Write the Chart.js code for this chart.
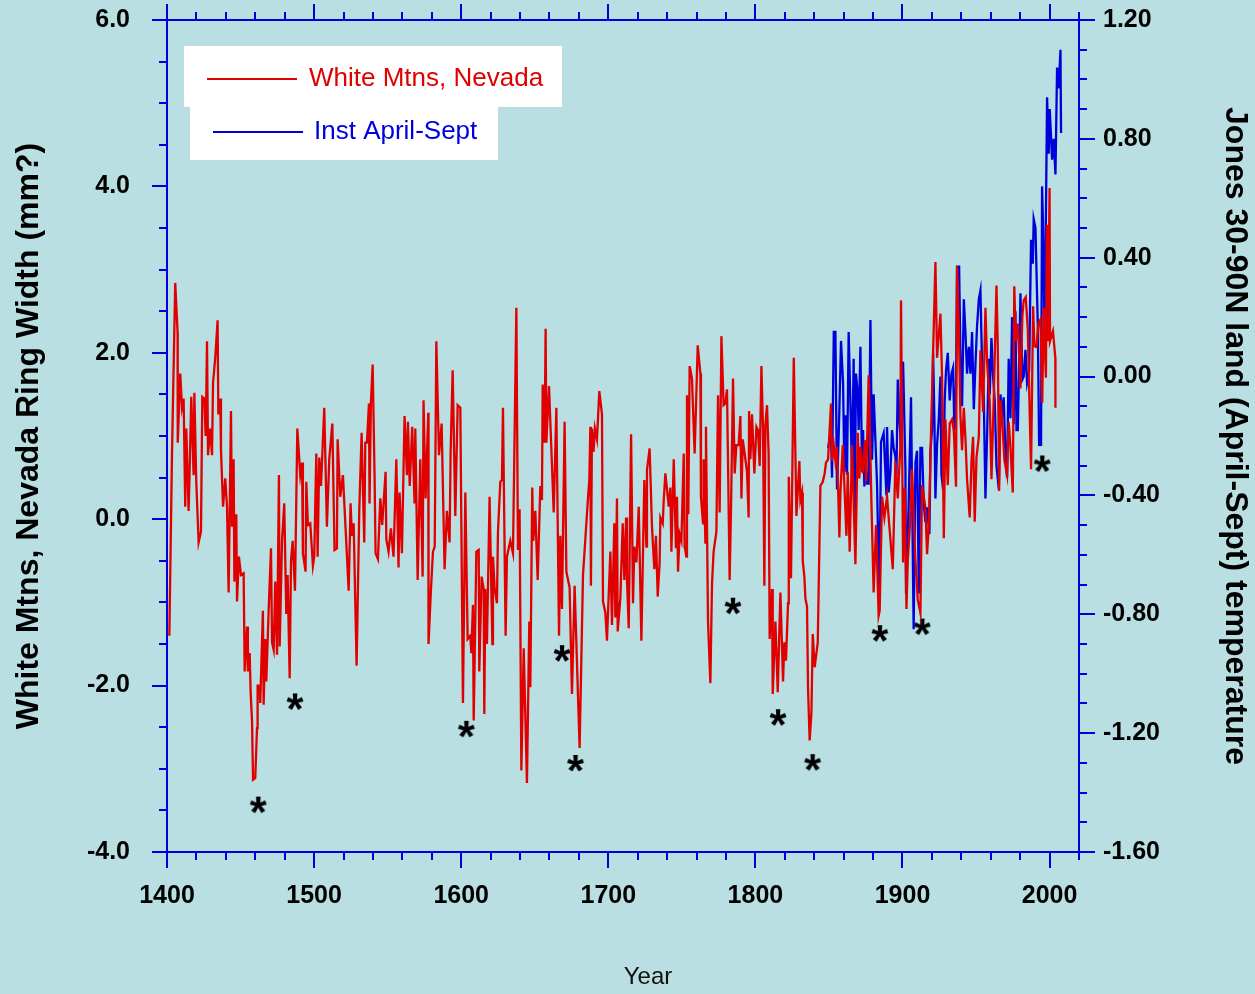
<!DOCTYPE html>
<html>
<head>
<meta charset="utf-8">
<script src="https://cdn.jsdelivr.net/npm/chart.js@4.4.1/dist/chart.umd.min.js"></script>
<style>
  html, body { margin: 0; padding: 0; background: #b9dfe2; }
  canvas { display: block; }
</style>
</head>
<body>
<canvas id="ringChart" width="1255" height="994"></canvas>
<script>
// White Mountains ring width (left axis, mm?)
const redYears = [
  1401.6, 1403.4, 1405.6, 1407.2, 1407.3, 1409.0, 1410.2, 1411.3, 1412.4, 1413.1, 1414.7, 1415.4, 1416.5, 1418.1, 1418.6, 1419.9,
  1421.5, 1423.1, 1424.0, 1425.4, 1426.3, 1427.2, 1427.9, 1429.4, 1430.6, 1431.3, 1432.8, 1434.4, 1434.9, 1436.2, 1436.7, 1438.1,
  1439.6, 1440.8, 1441.9, 1443.5, 1444.2, 1445.3, 1445.8, 1447.1, 1447.6, 1448.9, 1450.3, 1452.1, 1452.8, 1454.4, 1455.0, 1456.2,
  1456.9, 1457.8, 1458.5, 1460.0, 1461.2, 1461.6, 1463.0, 1463.4, 1465.2, 1465.7, 1466.8, 1467.5, 1469.1, 1470.7, 1471.4, 1472.5,
  1473.6, 1474.8, 1476.1, 1476.6, 1478.2, 1479.7, 1481.1, 1482.0, 1483.4, 1484.3, 1485.4, 1487.0, 1488.6, 1490.6, 1491.8, 1492.4,
  1494.2, 1494.7, 1495.8, 1497.4, 1499.2, 1500.1, 1501.5, 1502.4, 1503.5, 1504.7, 1506.9, 1508.7, 1510.3, 1512.4, 1513.9, 1515.5,
  1516.0, 1517.8, 1519.6, 1521.4, 1523.5, 1524.8, 1525.7, 1526.9, 1528.9, 1530.7, 1532.3, 1534.1, 1534.8, 1535.9, 1537.3, 1537.7,
  1538.6, 1539.8, 1541.1, 1541.8, 1543.4, 1545.0, 1546.3, 1548.6, 1549.1, 1550.6, 1552.2, 1554.0, 1555.9, 1557.4, 1558.1, 1559.7,
  1561.5, 1563.1, 1563.8, 1565.0, 1566.7, 1568.3, 1568.8, 1570.4, 1572.2, 1573.8, 1574.4, 1575.8, 1577.6, 1577.8, 1579.4, 1580.8,
  1582.0, 1583.1, 1584.9, 1586.7, 1588.7, 1590.3, 1592.1, 1592.8, 1594.2, 1596.0, 1597.6, 1599.4, 1601.2, 1602.8, 1604.4, 1606.2,
  1606.9, 1608.0, 1608.5, 1610.3, 1611.9, 1612.3, 1613.9, 1615.3, 1615.7, 1616.4, 1617.5, 1619.3, 1621.2, 1621.6, 1622.7, 1624.3,
  1625.0, 1626.6, 1627.7, 1628.4, 1630.2, 1631.1, 1633.4, 1635.2, 1637.5, 1638.6, 1639.7, 1640.9, 1642.5, 1644.7, 1646.3, 1647.0,
  1648.3, 1649.0, 1650.4, 1652.0, 1653.8, 1654.9, 1655.4, 1656.7, 1657.4, 1657.9, 1659.7, 1662.9, 1664.7, 1666.5, 1667.4, 1668.5,
  1670.3, 1671.5, 1673.7, 1675.3, 1677.1, 1680.5, 1682.8, 1686.2, 1687.1, 1687.8, 1688.2, 1688.9, 1690.0, 1690.9, 1692.3, 1693.9,
  1695.7, 1696.4, 1698.0, 1699.1, 1701.4, 1702.5, 1704.1, 1704.8, 1705.9, 1706.4, 1708.2, 1709.8, 1710.9, 1712.1, 1712.7, 1713.9,
  1715.5, 1716.8, 1717.7, 1719.1, 1720.7, 1722.5, 1724.5, 1725.9, 1726.3, 1728.1, 1729.7, 1731.3, 1732.4, 1733.6, 1734.9, 1735.4,
  1737.0, 1737.7, 1738.8, 1741.1, 1742.2, 1742.9, 1744.5, 1746.0, 1746.7, 1747.4, 1748.5, 1749.7, 1751.3, 1751.9, 1753.1, 1753.5,
  1754.4, 1755.3, 1756.9, 1758.7, 1760.8, 1762.6, 1763.0, 1764.4, 1764.8, 1766.0, 1766.4, 1767.8, 1769.4, 1770.5, 1771.6, 1773.5,
  1774.6, 1775.7, 1776.9, 1778.4, 1779.6, 1780.7, 1782.5, 1783.4, 1784.8, 1785.9, 1787.1, 1788.6, 1789.8, 1790.5, 1791.4, 1792.7,
  1794.3, 1795.4, 1795.7, 1796.6, 1797.7, 1799.3, 1800.7, 1801.8, 1802.9, 1804.1, 1805.2, 1806.1, 1806.8, 1807.9, 1809.0, 1809.7,
  1811.3, 1811.8, 1813.6, 1815.2, 1817.0, 1818.8, 1819.7, 1820.8, 1822.2, 1822.7, 1824.2, 1826.1, 1827.9, 1829.9, 1830.6, 1831.7,
  1832.2, 1833.3, 1834.0, 1835.1, 1835.8, 1836.9, 1838.1, 1839.0, 1840.3, 1842.4, 1844.2, 1845.8, 1847.1, 1848.0, 1849.4, 1851.4,
  1852.1, 1853.3, 1854.4, 1855.5, 1857.1, 1857.8, 1859.4, 1861.9, 1862.8, 1864.1, 1865.7, 1868.0, 1869.6, 1870.7, 1871.4, 1873.0,
  1874.5, 1875.3, 1877.0, 1878.9, 1880.4, 1882.0, 1883.8, 1884.5, 1886.1, 1887.7, 1889.5, 1891.1, 1893.4, 1895.2, 1896.8, 1898.6,
  1899.0, 1900.4, 1901.5, 1902.7, 1903.6, 1904.9, 1906.5, 1907.7, 1908.8, 1910.4, 1912.2, 1913.3, 1915.6, 1916.7, 1917.9, 1919.4,
  1922.4, 1923.5, 1925.8, 1926.9, 1928.1, 1929.2, 1930.8, 1932.1, 1933.7, 1934.9, 1936.4, 1937.1, 1938.3, 1939.4, 1940.5, 1941.7,
  1942.8, 1943.9, 1945.7, 1946.9, 1948.0, 1949.1, 1950.3, 1951.9, 1953.0, 1954.8, 1956.4, 1957.5, 1959.3, 1960.5, 1962.1, 1963.9,
  1964.8, 1965.7, 1966.6, 1967.7, 1969.3, 1971.1, 1972.2, 1973.4, 1975.0, 1976.0, 1977.0, 1978.4, 1980.2, 1981.5, 1982.4, 1983.8,
  1985.2, 1986.3, 1987.4, 1988.8, 1989.7, 1991.1, 1992.4, 1993.8, 1995.0, 1996.0, 1997.5, 1998.2, 1998.9, 2000.0, 2000.3, 2002.3,
  2003.9, 2004.0
];
const redValues = [
  -1.40, 0.79, 2.84, 2.24, 0.92, 1.75, 1.34, 1.45, 0.15, 1.09, 0.10, 0.59, 1.47, 0.53, 1.52, 0.45,
  -0.28, -0.15, 1.47, 1.45, 1.00, 2.14, 0.77, 1.09, 0.77, 1.64, 1.94, 2.39, 1.26, 1.45, 0.83, 0.15,
  0.49, 0.15, -0.88, 1.30, -0.09, 0.72, -0.75, 0.06, -0.99, -0.45, -0.67, -0.65, -1.83, -1.29, -1.83, -1.61,
  -2.10, -2.42, -3.13, -3.11, -2.51, -2.00, -2.00, -2.21, -1.10, -2.23, -1.44, -1.95, -1.10, -0.35, -1.48, -1.57,
  -0.75, -1.63, 0.53, -1.53, -0.26, 0.19, -1.14, -0.67, -1.91, -0.50, -0.26, -0.86, 1.09, 0.53, 0.68, -0.41,
  -0.63, 0.45, -0.07, -0.05, -0.56, -0.45, 0.79, -0.45, 0.74, 0.40, 1.34, -0.09, 0.72, 1.15, -0.37, -0.35,
  0.96, 0.27, 0.53, -0.11, -0.86, 0.19, -0.20, -0.05, -1.76, 0.10, 1.04, -0.28, 0.92, 0.92, 1.39, 0.19,
  1.39, 1.86, 0.53, -0.41, -0.48, 0.25, -0.07, 0.57, -0.24, -0.39, -0.11, -0.45, 0.72, -0.58, 0.32, -0.41,
  1.24, 0.53, 1.17, 0.40, 1.11, 0.19, 1.09, -0.73, 0.72, -0.69, 1.43, 0.25, 1.28, -1.50, -0.86, -0.39,
  -0.33, 2.14, 0.77, 1.15, -0.60, 0.10, -0.28, 0.79, 1.79, 0.04, 1.37, 1.34, -2.21, 0.32, -1.44, -1.40,
  -1.61, -1.03, -2.42, -0.39, -0.37, -1.83, -0.69, -0.84, -2.34, -0.84, -1.50, 0.27, -1.50, -0.45, -0.82, -1.01,
  -0.15, 0.45, 0.47, 1.34, -1.40, -0.45, -0.26, -0.41, 2.54, -0.37, 0.12, -3.02, -1.55, -3.17, -1.23, -2.02,
  0.38, -0.26, 0.10, -0.73, 0.40, 0.23, 1.62, 0.92, 2.29, 0.92, 1.60, 0.08, 1.34, -1.40, -0.20, -1.08,
  1.17, -0.63, -0.82, -2.10, -0.80, -2.75, -0.67, 0.25, 0.47, 1.11, -0.80, 1.09, 0.81, 1.09, 0.96, 1.54,
  1.26, -0.99, -1.12, -1.46, -0.39, -1.27, -0.05, -1.18, 0.25, -1.35, -0.95, -0.05, -0.73, 0.02, -0.73, -1.31,
  1.02, -1.01, -0.33, -0.52, 0.15, -1.46, 0.47, -0.33, 0.59, 0.85, -0.09, -0.60, -0.20, -0.93, -0.52, 0.02,
  -0.05, 0.23, 0.55, 0.15, 0.38, -0.39, 0.72, -0.35, 0.27, -0.63, -0.18, -0.26, 0.79, -0.33, -0.45, 1.49,
  0.06, 1.84, 1.69, 0.79, 2.09, 1.75, 0.27, -0.05, 0.72, -0.28, 1.11, -1.23, -1.97, -0.78, -0.39, -0.15,
  1.49, 0.08, 2.20, 1.37, 1.39, 1.56, -0.73, 0.10, 1.69, 0.55, 0.89, 0.89, 1.24, 0.25, 0.96, 0.79,
  0.57, 0.02, 1.30, 0.72, 1.26, 0.55, 1.11, 1.07, 0.64, 1.84, 1.09, -0.80, 1.13, 1.37, 0.79, -1.44,
  -0.84, -2.10, -1.23, -2.08, -0.88, -1.95, -1.48, -1.70, -1.01, 0.51, -0.71, 1.94, 0.04, 0.70, 0.23, 0.32,
  -0.50, -0.69, -0.95, -1.05, -2.04, -2.66, -2.32, -1.38, -1.78, -1.48, 0.40, 0.45, 0.55, 0.68, 0.72, 1.39,
  0.70, 0.89, 0.70, 0.87, -0.22, 0.32, 0.89, -0.20, 0.57, -0.39, 0.89, -0.54, 1.04, 0.49, 0.87, 0.55,
  0.95, 0.45, 1.73, 0.19, -0.88, -0.07, -1.16, -1.10, 0.27, 0.02, 0.27, -0.09, -0.60, 0.70, 0.25, 0.89,
  2.63, -0.52, 0.38, -1.08, -0.50, -0.13, 0.60, 0.00, -0.49, -0.97, -1.13, 0.41, 0.14, -0.42, -0.09, 1.04,
  3.09, 1.94, 2.47, 1.71, -0.23, 1.20, 0.41, 1.15, 1.20, 1.06, 0.39, 3.04, 2.31, 1.24, 0.83, 1.34,
  0.97, 0.48, 0.02, 0.69, 0.99, -0.03, 0.74, 0.99, 2.03, 1.29, 2.54, 1.89, 1.41, 0.48, 1.50, 2.81,
  2.07, 0.34, 1.43, 1.20, 0.71, 0.53, 1.17, 0.87, 0.32, 2.80, 2.14, 2.35, 1.57, 2.44, 2.63, 2.67,
  2.28, 1.42, 0.60, 2.56, 2.08, 2.07, 2.35, 2.40, 1.40, 2.54, 1.70, 3.54, 2.14, 3.98, 2.14, 2.26,
  1.94, 1.34
];

// Instrumental April-Sept temperature (right axis)
const blueYears = [
  1849.4, 1851.4, 1852.1, 1853.3, 1854.4, 1855.5, 1856.9, 1858.2, 1859.6, 1860.5, 1861.2, 1862.3, 1863.4, 1864.6, 1865.7, 1866.8,
  1867.5, 1868.4, 1869.6, 1870.2, 1871.4, 1872.5, 1873.2, 1874.1, 1874.8, 1875.9, 1877.0, 1878.2, 1879.3, 1880.4, 1882.7, 1884.3,
  1885.4, 1887.2, 1889.1, 1889.5, 1890.6, 1891.8, 1892.9, 1894.0, 1895.2, 1895.9, 1896.8, 1898.1, 1899.0, 1900.4, 1902.0, 1902.4,
  1904.2, 1905.8, 1907.6, 1908.8, 1909.9, 1911.1, 1912.2, 1913.3, 1914.5, 1915.6, 1916.7, 1918.3, 1919.0, 1920.1, 1920.8, 1921.7,
  1922.4, 1923.5, 1924.7, 1925.8, 1926.5, 1927.6, 1928.7, 1929.6, 1930.8, 1932.1, 1933.3, 1934.4, 1935.3, 1936.4, 1937.1, 1938.5,
  1939.4, 1940.5, 1941.7, 1942.8, 1943.9, 1945.1, 1946.2, 1947.3, 1948.5, 1949.6, 1950.7, 1951.9, 1953.0, 1954.1, 1955.3, 1956.4,
  1957.5, 1958.7, 1959.3, 1960.5, 1961.6, 1962.7, 1963.9, 1965.5, 1966.6, 1967.7, 1968.8, 1970.0, 1971.1, 1972.2, 1973.4, 1974.5,
  1975.6, 1976.8, 1977.5, 1978.4, 1980.2, 1981.5, 1982.4, 1983.6, 1984.7, 1986.1, 1987.4, 1988.6, 1989.2, 1990.4, 1992.0, 1992.9,
  1994.2, 1994.9, 1995.6, 1996.7, 1997.6, 1998.3, 1999.4, 2000.1, 2001.7, 2002.8, 2004.0, 2005.1, 2006.2, 2007.4, 2007.8
];
const blueValues = [
  -0.24, -0.19, -0.34, 0.15, 0.15, -0.38, -0.15, 0.12, -0.02, -0.32, -0.13, -0.33, 0.15, -0.09, -0.33, 0.06,
  -0.49, 0.01, -0.06, -0.18, 0.10, -0.32, -0.18, -0.37, -0.28, -0.36, -0.36, 0.19, -0.28, -0.06, -0.36, -0.76,
  -0.22, -0.19, -0.40, -0.17, -0.39, -0.32, -0.18, -0.24, -0.27, -0.33, -0.01, -0.16, -0.24, 0.05, -0.31, -0.73,
  -0.43, -0.07, -0.85, -0.29, -0.25, -0.73, -0.24, -0.24, -0.43, -0.49, -0.44, -0.53, -0.25, -0.18, 0.08, -0.14,
  -0.41, -0.23, -0.14, 0.00, -0.33, -0.38, -0.08, 0.02, 0.08, -0.08, 0.01, 0.03, -0.18, -0.03, 0.37, 0.37,
  0.07, -0.10, 0.26, 0.15, 0.01, 0.10, 0.01, 0.15, -0.11, 0.04, 0.17, 0.26, 0.29, 0.04, -0.08, -0.41,
  -0.20, 0.06, -0.06, 0.13, 0.00, -0.08, -0.30, -0.38, -0.06, -0.13, -0.07, -0.26, -0.34, 0.06, -0.14, 0.20,
  -0.16, 0.22, -0.18, -0.18, 0.28, -0.01, 0.00, 0.09, -0.02, 0.02, 0.46, 0.38, 0.53, 0.50, 0.17, -0.23,
  -0.23, 0.64, 0.50, 0.11, 0.59, 0.94, 0.75, 0.90, 0.73, 0.80, 0.68, 1.04, 0.97, 1.10, 0.82
];

// asterisk markers (left axis)
const markerYears = [1462.0, 1487.0, 1603.5, 1668.5, 1677.7, 1784.7, 1815.4, 1838.9, 1884.6, 1913.4, 1995.0];
const markerValues = [-3.43, -2.19, -2.52, -1.61, -2.93, -1.04, -2.38, -2.92, -1.37, -1.29, 0.67];

const seriesNames = ['White Mtns, Nevada', 'Inst April-Sept'];

const RED = '#e00000';
const BLUE = '#0000dd';
const AXIS = '#0000dd';
const BG = '#b9dfe2';
const FONT = '"Liberation Sans", Arial, sans-serif';

function toPoints(xs, ys) {
    return xs.map((x, i) => ({ x: x, y: ys[i] }));
}

// bold '*' glyph used as the marker
function makeAsterisk() {
    const c = document.createElement('canvas');
    c.width = 26;
    c.height = 26;
    const g = c.getContext('2d');
    g.font = 'bold 100px ' + FONT;
    let m = g.measureText('*');
    const size = 100 * 17 / (m.actualBoundingBoxLeft + m.actualBoundingBoxRight);
    g.font = 'bold ' + size.toFixed(1) + 'px ' + FONT;
    m = g.measureText('*');
    g.fillStyle = '#000';
    const x = 13 - (m.actualBoundingBoxRight - m.actualBoundingBoxLeft) / 2;
    const y = 13 + (m.actualBoundingBoxAscent - m.actualBoundingBoxDescent) / 2;
    g.fillText('*', x, y);
    return c;
}

const background = {
    id: 'background',
    beforeDraw(chart) {
        const ctx = chart.ctx;
        ctx.save();
        ctx.fillStyle = BG;
        ctx.fillRect(0, 0, chart.width, chart.height);
        ctx.restore();
    }
};

// box frame with major + minor tick marks on all four sides
const frame = {
    id: 'frame',
    afterDraw(chart) {
        const ctx = chart.ctx;
        const a = chart.chartArea;
        const xs = chart.scales.x, yl = chart.scales.y, yr = chart.scales.y1;
        ctx.save();
        ctx.strokeStyle = AXIS;
        ctx.lineWidth = 2;
        ctx.lineCap = 'butt';
        ctx.strokeRect(a.left, a.top, a.right - a.left, a.bottom - a.top);
        ctx.beginPath();
        for (let yr_ = 1400; yr_ <= 2020; yr_ += 20) {
            const px = Math.round(xs.getPixelForValue(yr_));
            const len = yr_ % 100 === 0 ? 16 : 8;
            ctx.moveTo(px, a.bottom); ctx.lineTo(px, a.bottom + len);
            ctx.moveTo(px, a.top); ctx.lineTo(px, a.top - len);
        }
        for (let k = 0; k <= 20; k++) {
            const py = Math.round(yl.getPixelForValue(-4 + k * 0.5));
            const len = k % 4 === 0 ? 15 : 8;
            ctx.moveTo(a.left, py); ctx.lineTo(a.left - len, py);
        }
        for (let k = 0; k <= 28; k++) {
            const py = Math.round(yr.getPixelForValue(-1.6 + k * 0.1));
            const len = k % 4 === 0 ? 16 : 8;
            ctx.moveTo(a.right, py); ctx.lineTo(a.right + len, py);
        }
        ctx.stroke();

        // x axis title, sits a little right of centre in the original
        ctx.fillStyle = '#111';
        ctx.font = '24px ' + FONT;
        ctx.textAlign = 'center';
        ctx.textBaseline = 'middle';
        ctx.fillText('Year', 648, 977);
        ctx.restore();
    }
};

const legendBoxes = {
    id: 'legendBoxes',
    afterDraw(chart) {
        const ctx = chart.ctx;
        ctx.save();
        ctx.fillStyle = '#ffffff';
        ctx.fillRect(184, 46, 378, 61);
        ctx.fillRect(190, 106, 308, 54);
        ctx.lineWidth = 2;
        ctx.strokeStyle = RED;
        ctx.beginPath(); ctx.moveTo(207, 79); ctx.lineTo(297, 79); ctx.stroke();
        ctx.strokeStyle = BLUE;
        ctx.beginPath(); ctx.moveTo(213, 132); ctx.lineTo(303, 132); ctx.stroke();
        ctx.font = '26px ' + FONT;
        ctx.textBaseline = 'middle';
        ctx.fillStyle = RED;
        ctx.fillText(seriesNames[0], 309, 79);
        ctx.fillStyle = BLUE;
        ctx.fillText(seriesNames[1], 314, 132);
        ctx.restore();
    }
};

const ctx = document.getElementById('ringChart').getContext('2d');

new Chart(ctx, {
    type: 'line',
    data: {
        datasets: [{
            label: seriesNames[0],
            data: toPoints(redYears, redValues),
            yAxisID: 'y',
            borderColor: RED,
            borderWidth: 2.3,
            pointRadius: 0,
            tension: 0
        }, {
            label: seriesNames[1],
            data: toPoints(blueYears, blueValues),
            yAxisID: 'y1',
            borderColor: BLUE,
            borderWidth: 2.3,
            pointRadius: 0,
            tension: 0
        }, {
            label: 'markers',
            data: toPoints(markerYears, markerValues),
            yAxisID: 'y',
            showLine: false,
            pointStyle: makeAsterisk(),
            pointRadius: 9
        }]
    },
    options: {
        responsive: false,
        animation: false,
        devicePixelRatio: 1,
        layout: { padding: { top: 20, left: 0, right: 0, bottom: 0 } },
        plugins: {
            legend: { display: false },
            tooltip: { enabled: false }
        },
        scales: {
            x: {
                type: 'linear',
                position: 'bottom',
                min: 1400,
                max: 2020,
                afterFit: s => { s.height = 142; },
                grid: { display: false, drawTicks: false },
                border: { display: false },
                ticks: {
                    stepSize: 100,
                    includeBounds: false,
                    autoSkip: false,
                    maxRotation: 0,
                    padding: 29,
                    color: '#000',
                    font: { family: FONT, size: 25, weight: 'bold' },
                    callback: v => (v % 100 === 0 ? String(v) : '')
                },
                title: { display: false }
            },
            y: {
                position: 'left',
                min: -4,
                max: 6,
                afterFit: s => { s.width = 167; },
                grid: { display: false, drawTicks: true, tickLength: 32 },
                border: { display: false },
                ticks: {
                    stepSize: 2,
                    padding: 5,
                    color: '#000',
                    font: { family: FONT, size: 25, weight: 'bold' },
                    callback: v => v.toFixed(1)
                },
                title: {
                    display: true,
                    text: 'White Mtns, Nevada Ring Width (mm?)',
                    color: '#000',
                    font: { family: FONT, size: 32, weight: 'bold' },
                    padding: { top: 10, bottom: 0 }
                }
            },
            y1: {
                position: 'right',
                min: -1.6,
                max: 1.2,
                afterFit: s => { s.width = 176; },
                grid: { display: false, drawTicks: true, tickLength: 19 },
                border: { display: false },
                ticks: {
                    stepSize: 0.4,
                    padding: 5,
                    color: '#000',
                    font: { family: FONT, size: 25, weight: 'bold' },
                    callback: v => (Math.abs(v) < 1e-9 ? 0 : v).toFixed(2)
                },
                title: {
                    display: true,
                    text: 'Jones 30-90N land (April-Sept) temperature',
                    color: '#000',
                    font: { family: FONT, size: 32, weight: 'bold' },
                    padding: { top: 1, bottom: 0 }
                }
            }
        }
    },
    plugins: [background, frame, legendBoxes]
});
</script>
</body>
</html>
